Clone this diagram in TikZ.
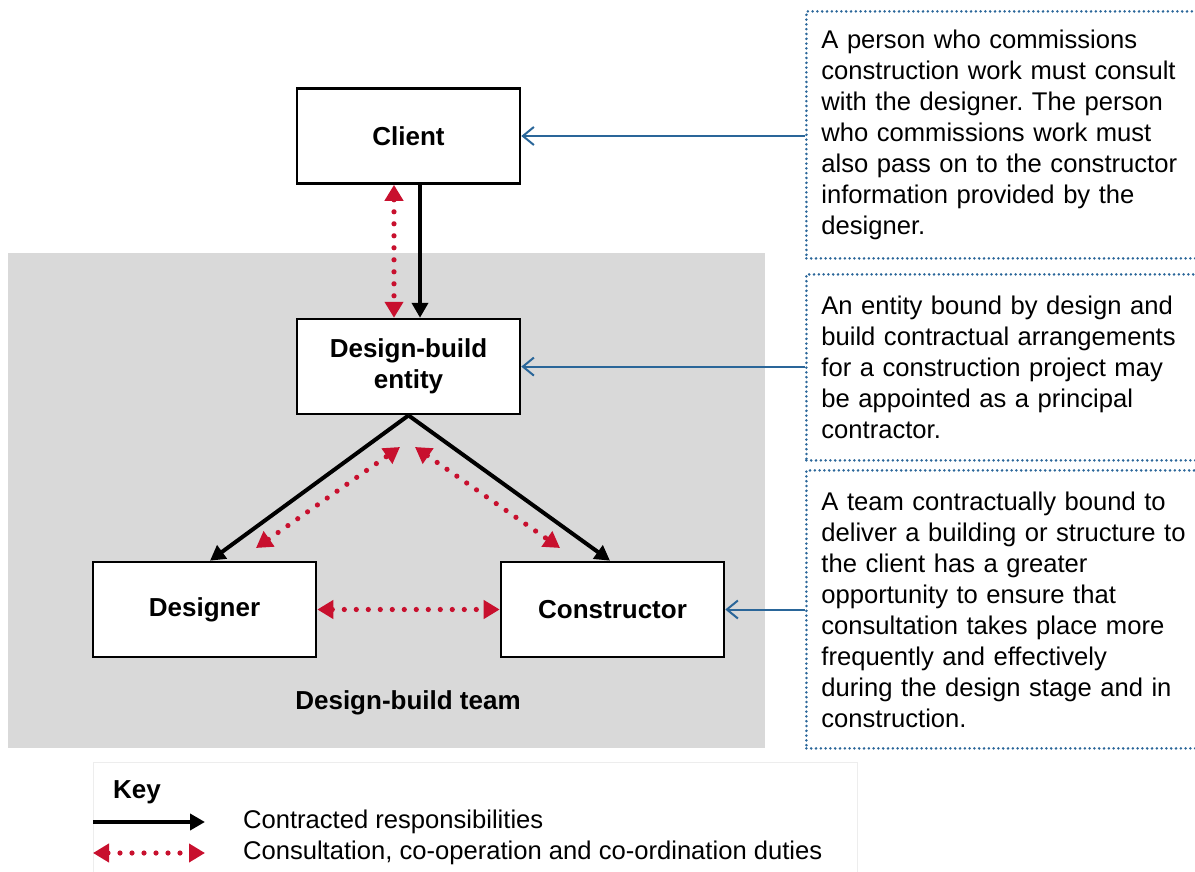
\documentclass[tikz,border=0pt]{standalone}
\usepackage{fontspec}
\setmainfont{Liberation Sans}
\usetikzlibrary{arrows.meta,positioning}
\definecolor{noteblue}{HTML}{2A6699}
\definecolor{dutyred}{HTML}{C8102E}
\definecolor{teamgrey}{HTML}{D9D9D9}
\frenchspacing
\begin{document}
\begin{tikzpicture}[x=0.5pt,y=-0.5pt,
  party/.style={draw,line width=1.3pt,fill=white,minimum width=111.5pt,minimum height=47.5pt,align=center,inner sep=0pt,font=\fontsize{13}{15.5}\selectfont\bfseries},
  note/.style={draw=noteblue,line width=1.4pt,line cap=round,dash pattern=on 0pt off 2.4pt,anchor=north west,text width=190pt,align=left,inner xsep=7.5pt,font=\fontsize{12.8}{15.5}\selectfont},
  contract/.style={line width=2pt,-{Triangle[length=7.5pt,width=8pt]}},
  duty/.style={dutyred,line width=2.6pt,line cap=round,dash pattern=on 0pt off 6pt,{Triangle[length=8pt,width=9pt]}-{Triangle[length=8pt,width=9pt]}},
  link/.style={noteblue,line width=1pt,-{Straight Barb[length=5.5pt,width=9pt]}}]
  \useasboundingbox (0,0) rectangle (1195,872);

  \fill[teamgrey] (8,253) rectangle (765,748);
  \draw[black!7,line width=0.5pt] (93,762) rectangle (857,880);

  \node[party] (client) at (408.5,136) {Client};
  \node[party, below=66.5pt of client] (entity) {Design-build\\entity};
  \node[party] (designer) at (204.5,609.5) {Designer};
  \node[party] (constructor) at (612.5,609.5) {Constructor};
  \node[font=\fontsize{13}{15.5}\selectfont\bfseries] (team) at (408,703) {Design-build team};

  \node[note, minimum height=123.5pt] (note1) at (805,10) {A person who commissions\\construction work must consult\\with the designer. The person\\who commissions work must\\also pass on to the constructor\\information provided by the\\designer.};
  \node[note, minimum height=93pt] (note2) at (805,273) {An entity bound by design and\\build contractual arrangements\\for a construction project may\\be appointed as a principal\\contractor.};
  \node[note, minimum height=139pt] (note3) at (805,469) {A team contractually bound to\\deliver a building or structure to\\the client has a greater\\opportunity to ensure that\\consultation takes place more\\frequently and effectively\\during the design stage and in\\construction.};

  \draw[link] (note1.west |- client) -- (client.east);
  \draw[link] (note2.west |- entity) -- (entity.east);
  \draw[link] (note3.west |- constructor) -- (constructor.east);

  \draw[contract] ([xshift=5.75pt]client.south) -- ([xshift=5.75pt]entity.north);
  \draw[duty] ([xshift=-7.25pt]client.south) -- ([xshift=-7.25pt]entity.north);
  \draw[contract] (entity.south) -- ([xshift=2.75pt]designer.north);
  \draw[contract] (entity.south) -- ([xshift=-1.25pt]constructor.north);
  \coordinate (dl) at (256,548);
  \coordinate (dlt) at (400,447);
  \coordinate (drt) at (415,447);
  \coordinate (dr) at (560,548);
  \draw[duty] (dl) -- (dlt);
  \draw[duty] (drt) -- (dr);
  \draw[duty] (designer.east) -- (constructor.west);

  % key
  \node[font=\fontsize{13}{15.5}\selectfont\bfseries, anchor=west] (key) at (106,792) {Key};
  \node[font=\fontsize{12.8}{15.5}\selectfont, anchor=west] (keycon) at (236,822) {Contracted responsibilities};
  \node[font=\fontsize{12.8}{15.5}\selectfont, anchor=west] (keyduty) at (236,853) {Consultation, co-operation and co-ordination duties};
  \coordinate (kc) at (93,822);
  \coordinate (kd) at (93,853);
  \draw[contract] (kc) -- ++(112,0);
  \draw[duty] (kd) -- ++(112,0);
\end{tikzpicture}
\end{document}
